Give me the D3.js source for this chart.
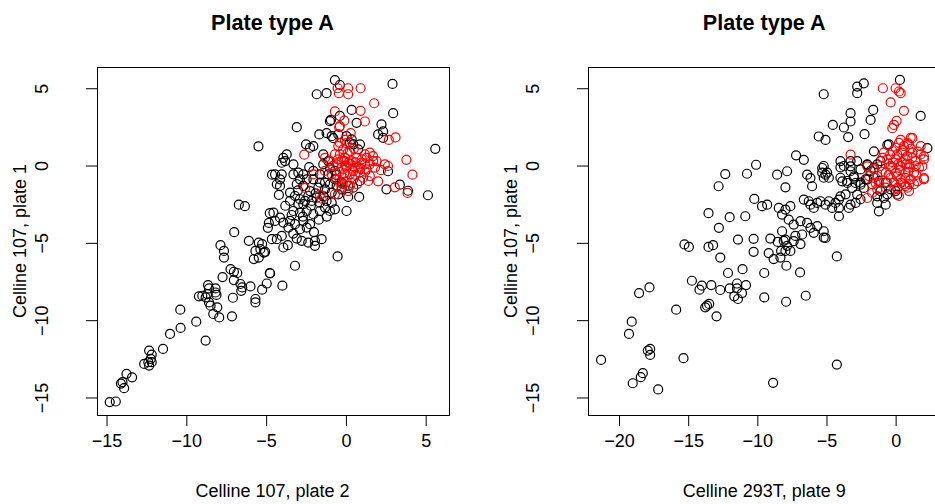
<!DOCTYPE html>
<html>
<head>
<meta charset="utf-8">
<script src="https://cdn.jsdelivr.net/npm/d3@7"></script>
<style>
  body { margin: 0; background: #fff; }
  svg text { font-family: "Liberation Sans", Arial, Helvetica, sans-serif; fill: #000; }
</style>
</head>
<body>
<svg id="chart"></svg>
<script>
// ---- data ----
// left panel: black points, x = Celline 107 plate 2, y = Celline 107 plate 1
const leftX = [-14.8,-14.42,-14.0,-14.1,-13.9,-13.75,-13.4,-12.64,-12.33,-12.17,-12.23,-12.38,-12.33,-12.17,-11.46,-11.02,-10.36,-10.38,-9.38,-8.79,
  -9.21,-9.0,-8.79,-8.58,-8.48,-8.06,-8.31,-7.94,-8.64,-8.58,-8.69,-8.17,-8.17,-8.11,-7.14,-7.08,-7.73,-7.23,-7.02,-6.81,
  -7.02,-6.61,-6.5,-6.56,-5.98,-5.25,-5.67,-5.67,-4.77,-7.86,-7.64,-7.64,-6.08,-5.46,-5.25,-5.67,-5.36,-5.14,-5.77,-5.46,
  -5.48,-6.71,-6.33,-4.77,-4.83,-4.89,-7.0,-4.63,-5.06,-4.64,-4.33,-4.02,-3.08,-2.77,-2.36,-1.94,-1.52,-1.94,-3.92,-3.64,
  -0.52,-3.19,-4.75,-4.96,-3.98,
  -3.08,-1.67,-0.89,-2.5,-2.25,-2.04,-3.71,-3.92,-4.02,-3.81,-3.29,-4.44,-4.02,-4.13,-4.13,-4.33,-3.29,-2.98,-2.67,-2.88,
  -2.46,-3.08,-2.67,-2.04,-1.63,-2.04,-1.63,-1.31,-1.73,-2.25,-3.5,-3.19,-2.88,-2.56,-3.5,-2.98,-2.67,-2.36,-2.14,-1.83,
  -1.63,-1.21,-0.89,-1.31,-1.0,-0.69,-3.29,-2.88,-2.46,-2.04,-1.63,-4.54,-4.13,-4.44,-3.92,-3.5,-3.19,-2.67,-2.25,-2.46,
  -2.88,-3.6,0.04,0.14,0.83,-1.0,0.67,2.23,2.02,2.33,2.54,
  -0.69,-0.38,-1.83,-1.21,2.92,0.36,-0.38,-0.94,2.96,2.33,-1.21,-0.79,5.6,2.64,3.38,3.89,5.14,
  -1.42,-1.1,-1.42,-1.0,-0.69,-1.1,-0.69,-1.0,-0.58,-0.27,-1.31,-0.89,-0.48,-0.27,0.14,0.46,0.88,0.25,0.36,0.46,
  0.77,0.88,0.04,-0.48,
  -3.4,-2.7,-2.2,-1.9,-1.4,-3.0,-3.8,-4.2,-2.0,-1.7,-1.2,-3.3,-0.6,-2.3];
const leftY = [-15.3,-15.26,-14.01,-14.1,-14.4,-13.47,-13.7,-12.83,-11.97,-12.23,-12.5,-12.72,-12.94,-12.72,-11.86,-10.89,-10.5,-9.32,-10.1,-11.32,
  -8.46,-8.42,-8.53,-8.85,-9.06,-9.17,-9.6,-9.82,-7.73,-7.95,-8.31,-7.95,-8.21,-8.37,-9.75,-8.55,-7.21,-6.7,-6.87,-6.95,
  -7.41,-7.66,-7.88,-8.1,-7.82,-8.03,-8.63,-8.85,-6.95,-5.15,-5.52,-5.95,-4.87,-4.98,-5.08,-5.52,-5.41,-5.63,-6.05,-5.95,
  1.24,-2.53,-2.63,-3.08,-3.71,-4.03,-4.31,-0.59,-5.58,-4.76,-4.76,-4.55,-4.72,-4.87,-4.98,-4.87,-4.76,-5.19,-5.3,-5.15,
  -5.88,-6.48,-6.98,-7.63,-7.77,
  2.48,2.01,1.9,1.37,1.15,1.26,0.72,0.5,0.18,0.29,0.08,-0.57,-0.57,-0.89,-1.32,-1.21,-0.57,-0.46,-0.57,-0.89,
  -0.89,-1.21,-1.32,-0.35,-0.57,-0.89,-1.11,-1.11,-1.43,-1.65,-1.75,-1.97,-2.18,-2.29,-2.29,-2.5,-2.5,-1.97,-2.29,-2.08,
  -2.4,-2.29,-2.4,-2.72,-2.94,-2.83,-2.94,-3.05,-2.94,-3.15,-2.94,-3.05,-3.37,-3.58,-3.69,-3.58,-3.79,-3.58,-3.79,-4.01,
  -4.12,-4.01,-2.94,-2.03,-2.03,2.87,2.76,2.66,2.01,1.79,-1.54,
  5.53,5.21,4.61,4.68,5.28,3.6,3.21,2.95,3.39,2.21,2.1,1.77,1.08,-0.37,-1.24,-1.63,-1.92,
  0.72,0.29,0.08,-0.14,-0.35,-0.57,-0.89,-1.21,-1.32,-1.11,-1.54,-1.75,-1.86,-1.54,-1.32,-1.43,-1.0,1.47,1.69,1.37,
  1.05,1.37,1.9,2.01,
  -3.2,-3.3,-2.6,-1.8,-2.0,-1.6,-2.6,-1.9,-4.3,-3.5,-3.3,-4.4,-0.6,-0.1];
// left panel: red points
const leftRedX = [-0.52,0.14,0.14,0.92,-0.44,1.77,0.92,-0.69,1.19,2.69,3.11,-0.42,-0.06,0.04,-2.61,3.79,4.17,2.02,3.06,3.86,
  -2.56,-1.63,-1.52,1.5,1.7,1.19,1.92,2.44,1.5,1.29,0.98,0.67,0.36,0.56,0.25,0.88,1.08,0.04,0.46,-0.27,
  0.14,-0.69,-2.04,-1.31,-1.0,-0.58,-0.27,0.04,-0.69,-0.38,-0.06,-0.48,-0.38,-0.17,0.25,-1.31,-0.89,-0.58,-0.17,-0.27,
  0.14,0.46,0.77,1.19,1.5,1.71,1.82,0.25,-0.38,-0.38,2.64,
  0.0,0.3,-0.1,0.6,0.9,1.2,0.4,-0.4,-0.1,0.6,1.0,1.3,-0.8,-0.5,0.1,0.5,-0.2,0.7,1.4,2.2,0.3,-0.1];
const leftRedY = [5.0,5.0,4.61,5.0,4.68,4.03,3.54,3.5,2.85,1.66,1.82,2.48,1.66,1.45,0.7,0.37,-0.59,-1.02,-1.41,-1.77,
  -1.45,-1.88,-2.14,0.83,0.61,0.72,0.29,0.08,-0.68,-0.25,0.18,0.5,0.29,-0.14,-0.57,-0.46,-0.79,-1.0,-0.89,-1.43,
  -1.65,-1.86,-0.57,-0.35,0.29,0.08,-0.14,-0.14,0.72,0.72,0.5,1.26,1.47,1.05,0.94,0.5,-0.57,-0.89,-0.79,0.29,
  0.18,-0.35,-0.14,0.08,0.08,0.29,-0.14,-1.32,-1.11,2.55,-0.03,
  0.0,0.1,0.3,0.2,-0.2,-0.4,-0.2,-0.4,-0.5,-0.6,0.4,0.5,0.0,0.4,0.8,1.1,-1.2,-1.2,-1.0,-0.3,2.1,2.9];

// right panel: black points, x = Celline 293T plate 9, y = Celline 107 plate 1
const rightX = [-10.09,-10.75,-12.32,-12.8,-10.22,-9.66,-13.53,-12.0,-10.87,-12.78,-15.27,-14.95,-13.53,-13.2,-11.4,-10.27,-12.68,-10.27,-12.12,-11.07,
  -9.5,-14.73,-14.01,-14.18,-13.33,-12.68,-12.0,-11.47,-11.47,-10.82,-11.67,-11.4,-11.11,-9.5,-17.8,-18.55,-15.87,-13.77,-13.48,-13.64,
  -12.95,-19.08,-19.28,-17.92,-17.75,-17.75,-15.34,-21.3,-18.28,-18.43,-19.01,-17.17,
  -9.06,-8.53,-8.09,-7.85,-7.97,-7.61,-8.28,-9.18,-8.82,-8.33,-7.25,-6.88,-5.2,-4.25,-7.9,-6.91,-7.92,-6.5,-4.25,-8.86,
  0.31,-2.78,-2.3,-2.78,-5.2,-1.62,-3.26,-3.26,-3.74,-1.81,-4.54,1.81,-2.25,-5.56,-5.07,-3.43,-7.2,-6.64,-8.57,-7.85,
  -7.97,-6.4,-6.16,-6.04,-5.31,-5.07,-3.99,-3.86,-3.26,-3.26,-3.02,-3.5,-2.9,-2.54,-2.17,-2.3,-3.14,-2.78,-2.05,-1.57,
  -0.6,2.3,-6.64,-6.28,-6.16,-5.92,-5.67,-5.43,-5.07,-4.83,-4.59,-4.1,-3.99,-3.62,-4.35,-3.26,-2.9,-2.54,-3.38,-1.33,
  -0.85,-0.72,-9.29,-8.45,-7.97,-7.61,-8.21,-7.73,-7.37,-6.88,-6.4,-6.16,-5.67,-5.92,-5.2,-5.07,-6.76,-8.21,-7.97,-7.37,
  -4.1,-4.1,-1.33,-1.21,0.12,
  -0.49,-5.2,-5.31,-4.95,-4.83,-5.2,-3.99,-3.74,-3.26,-2.78,-2.54,-2.05,-1.81,-1.57,-1.33,-1.09,-3.99,-3.5,-3.02,-2.54,
  -2.05,-1.57,-1.2,-0.72,-0.36,0.0,-1.09,-0.6];
const rightY = [0.05,-0.53,-0.55,-1.34,-2.16,-2.63,-3.08,-3.34,-3.28,-4.03,-5.1,-5.26,-5.26,-5.15,-4.79,-4.74,-5.95,-5.58,-6.95,-6.7,
  -6.95,-7.45,-7.77,-8.03,-7.73,-8.05,-7.95,-7.63,-7.95,-7.73,-8.46,-8.63,-8.25,-8.53,-7.88,-8.25,-9.32,-9.17,-8.95,-9.06,
  -9.75,-10.1,-10.89,-11.97,-11.86,-12.25,-12.46,-12.57,-13.43,-13.69,-14.08,-14.48,
  -4.72,-4.94,-4.87,-5.19,-5.52,-5.52,-5.52,-5.66,-6.05,-5.95,-4.55,-5.08,-4.66,-5.88,-6.48,-6.91,-8.81,-8.42,-12.87,-14.05,
  5.54,5.11,5.32,4.68,4.61,3.6,3.39,2.85,2.46,2.95,2.63,3.21,2.03,1.88,1.66,1.84,0.66,0.37,-0.59,-0.37,
  -1.41,-0.59,-0.81,-1.34,-0.16,-0.59,-0.12,-1.02,-0.05,-0.37,-0.7,-1.13,-1.13,-1.24,-0.89,-1.45,-1.45,-1.88,0.05,0.92,
  1.34,1.13,-2.2,-2.31,-2.53,-2.74,-2.42,-2.31,-2.53,-2.31,-2.74,-2.2,-1.99,-1.86,-2.42,-2.53,-2.42,-2.18,-2.74,-2.42,
  -2.1,-2.53,-2.53,-2.74,-2.85,-2.63,-3.17,-3.5,-3.82,-3.6,-3.71,-4.03,-3.92,-4.35,-4.25,-4.68,-4.46,-4.25,-4.79,-4.89,
  -3.28,-2.74,-1.99,-2.96,-1.88,
  1.37,-0.03,-0.46,-0.46,-0.79,-0.79,0.29,-0.03,0.29,0.29,-0.25,0.08,-0.35,-0.14,0.08,0.29,-0.79,-1.0,-0.79,-1.11,
  -0.89,-0.79,-1.0,-1.11,-1.54,-1.65,-1.65,-1.86];
// right panel: red points
const rightRedX = [-0.92,0.0,0.36,0.24,-0.36,0.6,0.07,-0.12,-0.24,-3.26,-2.05,-1.45,-1.69,-2.05,0.12,0.72,2.05,1.57,2.05,1.93,
  1.21,0.36,0.85,-1.93,-1.69,-1.33,-0.72,0.24,0.85,1.09,0.24,0.97,1.81,-0.85,-0.24,0.48,1.21,1.81,-0.6,0.0,
  0.72,1.45,2.05,-1.09,-0.36,0.36,0.97,1.69,-0.72,0.0,0.72,1.33,-1.33,-0.36,0.36,1.09,-0.12,0.6,1.33,2.05,
  -1.57,-0.96,0.0,0.6,0.12,0.85,0.72,-0.24,1.45,-1.2,0.12,0.97,
  0.2,0.5,1.0,-0.2,-0.5,0.3,0.9,1.5,-0.5,0.1,0.7,1.2,0.5,-0.4,1.6,1.1,-1.0,0.4,1.0,-0.6];
const rightRedY = [5.0,5.0,4.68,4.79,4.08,3.54,2.89,2.63,2.42,0.7,-0.05,-1.13,-1.77,-2.1,-1.45,-1.34,-0.81,-1.02,0.59,-0.05,
  1.77,1.66,1.45,-0.68,-1.21,-1.54,-1.43,-1.97,-1.43,1.79,1.47,1.37,1.26,0.83,0.94,0.83,0.83,0.72,0.4,0.4,
  0.4,0.29,0.4,-0.03,-0.03,-0.03,-0.14,-0.14,-0.46,-0.46,-0.46,-0.46,-0.68,-0.79,-0.89,-0.89,-1.11,-1.21,-1.21,-0.89,
  -0.25,0.5,1.15,1.26,0.72,0.61,0.08,-0.14,-0.03,-1.11,-1.54,-1.65,
  0.1,0.2,0.1,0.2,0.1,-0.3,-0.4,-0.6,-0.6,-0.7,-0.8,0.5,1.0,0.7,0.9,1.1,-0.4,-1.1,-1.2,-1.1];

const titles = ["Plate type A", "Plate type A"];
const xLabels = ["Celline 107, plate 2", "Celline 293T, plate 9"];
const yLabel = "Celline 107, plate 1";
const leftXTicks = [-15, -10, -5, 0, 5];
const rightXTicks = [-20, -15, -10, -5, 0];
const yTicks = [-15, -10, -5, 0, 5];

// ---- layout ----
const W = 935, H = 504;
const plotTop = 67, plotBottom = 415;
const fmt = d3.format("d");

const svg = d3.select("#chart").attr("width", W).attr("height", H);
svg.append("rect").attr("width", W).attr("height", H).attr("fill", "#fff");

// R style range: data extent padded by 4% each side
function rRange(vals) {
  const [a, b] = d3.extent(vals);
  const pad = (b - a) * 0.04;
  return [a - pad, b + pad];
}

const yAll = leftY.concat(leftRedY, rightY, rightRedY);
const yDomain = rRange(yAll);

const panels = [
  {left: 96.7, right: 448.3, xs: leftX, ys: leftY, rxs: leftRedX, rys: leftRedY, ticks: leftXTicks, title: titles[0], xlab: xLabels[0]},
  {left: 588, right: 940.5, xs: rightX, ys: rightY, rxs: rightRedX, rys: rightRedY, ticks: rightXTicks, title: titles[1], xlab: xLabels[1]}
];

panels.forEach(p => {
  const x = d3.scaleLinear(rRange(p.xs.concat(p.rxs)), [p.left, p.right]);
  const y = d3.scaleLinear(yDomain, [plotBottom, plotTop]);
  const g = svg.append("g");
  const cx = (p.left + p.right) / 2;

  // points: black first, red on top
  g.selectAll("circle.blk").data(d3.range(p.xs.length)).join("circle")
    .attr("class", "blk")
    .attr("cx", i => x(p.xs[i])).attr("cy", i => y(p.ys[i]))
    .attr("r", 4.5).attr("fill", "none").attr("stroke", "#000").attr("stroke-width", 1.2);
  g.selectAll("circle.red").data(d3.range(p.rxs.length)).join("circle")
    .attr("class", "red")
    .attr("cx", i => x(p.rxs[i])).attr("cy", i => y(p.rys[i]))
    .attr("r", 4.5).attr("fill", "none").attr("stroke", "#ff0000").attr("stroke-width", 1.2);

  // box
  g.append("rect")
    .attr("x", Math.round(p.left) + 0.5).attr("y", plotTop + 0.5)
    .attr("width", Math.round(p.right - p.left)).attr("height", plotBottom - plotTop)
    .attr("fill", "none").attr("stroke", "#000");

  // x axis
  const xa = g.append("g").attr("transform", `translate(0,${plotBottom})`)
    .call(d3.axisBottom(x).tickValues(p.ticks).tickSize(11).tickPadding(8).tickFormat(d => fmt(d)));
  xa.select(".domain").attr("d", `M${x(p.ticks[0])},0.5H${x(p.ticks[p.ticks.length - 1])}`).attr("stroke", "#000");
  xa.selectAll("text").attr("font-size", 18).attr("font-family", "Liberation Sans, Arial, sans-serif");

  // y axis, labels turned parallel to the axis like R's las = 0
  const ya = g.append("g").attr("transform", `translate(${Math.round(p.left)},0)`)
    .call(d3.axisLeft(y).tickValues(yTicks).tickSize(11).tickFormat(d => fmt(d)));
  ya.select(".domain").attr("d", `M0.5,${y(yTicks[0])}V${y(yTicks[yTicks.length - 1])}`).attr("stroke", "#000");
  ya.selectAll(".tick text")
    .attr("font-size", 18).attr("font-family", "Liberation Sans, Arial, sans-serif")
    .attr("x", 0).attr("y", 0).attr("dy", null)
    .attr("text-anchor", "middle")
    .attr("transform", "translate(-49,0) rotate(-90)");

  // titles and labels
  g.append("text").attr("x", cx).attr("y", 30).attr("text-anchor", "middle")
    .attr("font-size", 21.6).attr("font-weight", "bold").text(p.title);
  g.append("text").attr("x", cx).attr("y", 497).attr("text-anchor", "middle")
    .attr("font-size", 18).text(p.xlab);
  g.append("text")
    .attr("transform", `translate(${p.left - 71},${(plotTop + plotBottom) / 2}) rotate(-90)`)
    .attr("text-anchor", "middle").attr("font-size", 18).text(yLabel);
});
</script>
</body>
</html>
